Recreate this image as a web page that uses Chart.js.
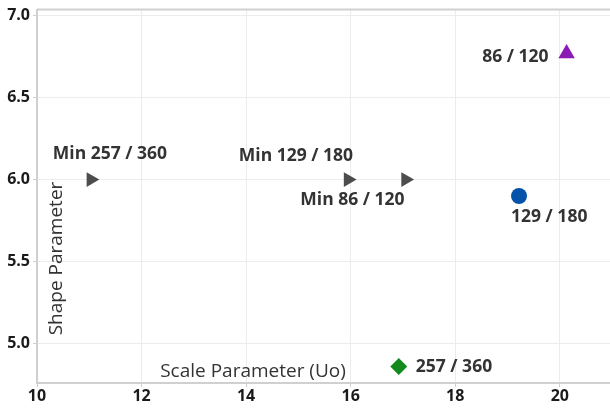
<!DOCTYPE html>
<html>
<head>
<meta charset="utf-8">
<script src="https://cdn.jsdelivr.net/npm/chart.js@4.4.1/dist/chart.umd.min.js"></script>
<style>
  html, body { margin: 0; padding: 0; background: #fff; }
  #wrap { width: 610px; height: 408px; }
</style>
</head>
<body>
<div id="wrap"><canvas id="c" width="610" height="408"></canvas></div>
<script>
// Fitted Weibull parameters per specimen group
const groups      = ['Min 257 / 360', 'Min 129 / 180', 'Min 86 / 120', '129 / 180', '86 / 120', '257 / 360'];
const scaleValues = [11.03, 15.95, 17.05, 19.22, 20.13, 16.92];
const shapeValues = [6.0, 6.0, 6.0, 5.9, 6.77, 4.86];
const xTicks = [10, 12, 14, 16, 18, 20];
const yTicks = [5.0, 5.5, 6.0, 6.5, 7.0];

// Marker appearance for each group
const markerStyle  = ['triangle', 'triangle', 'triangle', 'circle', 'triangle', 'rectRot'];
const markerRotate = [90, 90, 90, 0, 0, 0];
const markerColor  = ['#4d4d4d', '#4d4d4d', '#4d4d4d', '#0553a8', '#8c1bb4', '#138a1e'];
const markerRadius = [8.5, 8.5, 8.5, 8, 9.5, 8.5];
// label placement relative to the marker: [dx, dy, align]
const labelPlace = [
  [-38, -26, 'left'],
  [5, -24, 'right'],
  [-1, 20, 'right'],
  [-8, 21, 'left'],
  [-18, 4, 'right'],
  [17, 1, 'left']
];

const FONT = "'Open Sans', 'Noto Sans', sans-serif";

const pointLabels = {
  id: 'pointLabels',
  afterDatasetsDraw(chart) {
    const ctx = chart.ctx;
    const meta = chart.getDatasetMeta(0);
    ctx.save();
    ctx.font = 'bold 17.5px ' + FONT;
    ctx.fillStyle = '#333333';
    ctx.textBaseline = 'middle';
    meta.data.forEach((pt, i) => {
      const [dx, dy, align] = labelPlace[i];
      ctx.textAlign = align;
      ctx.fillText(groups[i], pt.x + dx, pt.y + dy);
    });
    ctx.restore();
  }
};

const frame = {
  id: 'frame',
  beforeDatasetsDraw(chart) {
    const { ctx, chartArea } = chart;
    ctx.save();
    ctx.strokeStyle = '#d0d0d0';
    ctx.lineWidth = 2;
    ctx.beginPath();
    ctx.moveTo(chartArea.left, chartArea.top);
    ctx.lineTo(chartArea.right, chartArea.top);
    ctx.stroke();
    ctx.restore();
  },
  afterDraw(chart) {
    const { ctx, chartArea } = chart;
    ctx.save();
    ctx.font = '19px ' + FONT;
    ctx.fillStyle = '#333333';
    ctx.textAlign = 'center';
    ctx.textBaseline = 'middle';
    ctx.fillText('Scale Parameter (Uo)', chartArea.left + 216, chartArea.bottom - 11);
    ctx.translate(chartArea.left + 20, chartArea.top + 249);
    ctx.rotate(-Math.PI / 2);
    ctx.fillText('Shape Parameter', 0, 0);
    ctx.restore();
  }
};

new Chart(document.getElementById('c'), {
  type: 'scatter',
  data: {
    datasets: [{
      data: scaleValues.map((x, i) => ({ x, y: shapeValues[i] })),
      pointStyle: markerStyle,
      rotation: markerRotate,
      pointRadius: markerRadius,
      pointHoverRadius: markerRadius,
      backgroundColor: markerColor,
      borderColor: markerColor,
      borderWidth: 0
    }]
  },
  options: {
    responsive: false,
    animation: false,
    events: [],
    layout: { autoPadding: false, padding: { top: 9.5, right: 0, left: 0, bottom: 0 } },
    plugins: { legend: { display: false }, tooltip: { enabled: false } },
    scales: {
      x: {
        type: 'linear',
        min: 10, max: 20.96,
        afterFit(s) { s.height = 25; s.paddingLeft = 0; s.paddingRight = 0; },
        afterBuildTicks(s) { s.ticks = xTicks.map(v => ({ value: v })); },
        ticks: { font: { family: FONT, size: 16, weight: 'bold' }, color: '#1a1a1a', padding: 0, maxRotation: 0 },
        grid: { color: '#ececec', lineWidth: 1, tickLength: 4, tickColor: '#cfcfcf' },
        border: { color: '#d0d0d0', width: 2 }
      },
      y: {
        type: 'linear',
        min: 4.759, max: 7.038,
        afterFit(s) { s.width = 37; s.paddingTop = 0; s.paddingBottom = 0; },
        afterBuildTicks(s) { s.ticks = yTicks.map(v => ({ value: v })); },
        ticks: {
          font: { family: FONT, size: 16, weight: 'bold' }, color: '#1a1a1a', padding: 3,
          callback: v => v.toFixed(1)
        },
        grid: { color: '#ececec', lineWidth: 1, tickLength: 4, tickColor: '#cfcfcf' },
        border: { color: '#d0d0d0', width: 2 }
      }
    }
  },
  plugins: [pointLabels, frame]
});
</script>
</body>
</html>
